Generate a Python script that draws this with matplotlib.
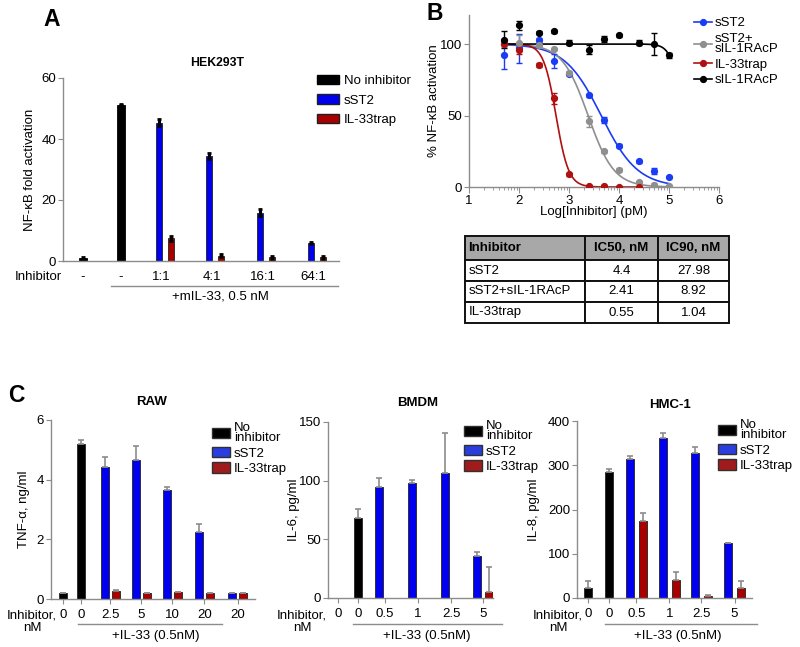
import numpy as np
import matplotlib.pyplot as plt
from matplotlib.lines import Line2D
from matplotlib.patches import Patch

plt.rcParams['font.family'] = ['Liberation Sans', 'DejaVu Sans']
plt.rcParams['font.size'] = 9.5
plt.rcParams['axes.edgecolor'] = '#8c8c8c'
plt.rcParams['axes.linewidth'] = 1.0
plt.rcParams['xtick.color'] = '#8c8c8c'
plt.rcParams['ytick.color'] = '#8c8c8c'
plt.rcParams['xtick.labelcolor'] = 'black'
plt.rcParams['ytick.labelcolor'] = 'black'

W, H = 800, 647
BLUE = '#0000ee'
RED = '#a80000'
GREY = '#8c8c8c'

# ---- panel A: HEK293T fold activation
a_labels = ['-', '-', '1:1', '4:1', '16:1', '64:1']
a_none = [1.0, 51.3]
a_none_err = [0.2, 0.3]
a_sst2 = [45.3, 34.4, 15.8, 5.9]
a_sst2_err = [1.1, 1.1, 1.1, 0.4]
a_trap = [7.5, 1.8, 1.2, 1.2]
a_trap_err = [0.8, 0.5, 0.4, 0.5]

# ---- panel B: dose response, x = log10 concentration (pM)
b_logc = [1.7, 2.0, 2.4, 2.7, 3.0, 3.4, 3.7, 4.0, 4.4, 4.7, 5.0]
b_sst2 = [92, 97, 103, 88, 79, 64, 47, 29, 18, 11, 7]
b_sst2_err = [9.5, 10, 1.5, 5, 1, 1, 2, 1, 1, 2, 1]
b_combo = [100, 101, 99, 96.5, 80, 46, 25, 12, 3.5, 1.5, 0.5]
b_combo_err = [2, 5, 1, 1, 1, 4, 1, 1, 1, 1, 0.5]
b_trap = [100, 96, 85.5, 62, 9, 1, 0.8, 0.3, 0.2]
b_trap_err = [1, 3, 1.5, 4, 1, 0.5, 0.5, 0.5, 0.5]
b_rap = [103, 113, 108, 109, 101, 96, 103.5, 106, 101, 100, 92]
b_rap_err = [6, 3, 1, 1, 2, 3, 2, 1, 2, 8, 2]
# sIL-1RAcP alone barely inhibits: fit parameters
b_rap_logic50 = 5.27
b_rap_hill = 4.0

# ---- table
t_inhib = ['sST2', 'sST2+sIL-1RAcP', 'IL-33trap']
t_ic50 = [4.4, 2.41, 0.55]
t_ic90 = [27.98, 8.92, 1.04]

# ---- panel C: cytokine release
raw_labels = ['0', '0', '2.5', '5', '10', '20', '20']
raw_none = [0.2, 5.2]
raw_none_err = [0.0, 0.14]
raw_sst2 = [4.43, 4.66, 3.64, 2.23, 0.2]
raw_sst2_err = [0.32, 0.48, 0.13, 0.28, 0.01]
raw_trap = [0.28, 0.2, 0.22, 0.2, 0.2]
raw_trap_err = [0.01, 0.0, 0.02, 0.0, 0.0]

bm_labels = ['0', '0', '0.5', '1', '2.5', '5']
bm_none = [0.0, 68.2]
bm_none_err = [0.0, 7.6]
bm_sst2 = [94.6, 97.7, 106.8, 36.1]
bm_sst2_err = [7.7, 3.1, 33.8, 3.1]
bm_trap = [0.0, 0.0, 0.0, 4.8]
bm_trap_err = [0.0, 0.0, 0.0, 21.3]

hm_labels = ['0', '0', '0.5', '1', '2.5', '5']
hm_none = [22.6, 284]
hm_none_err = [15, 7]
hm_sst2 = [314, 362, 328.5, 124]
hm_sst2_err = [7, 10, 12, 1]
hm_trap = [173, 41, 4.5, 22.5]
hm_trap_err = [19, 17, 1.5, 15]

fig = plt.figure(figsize=(8, 6.47), dpi=100)


def px_axes(l, t, r, b):
    return fig.add_axes([l / W, 1 - b / H, (r - l) / W, (b - t) / H])


def ftext(x, y, s, **kw):
    kw.setdefault('ha', 'center')
    kw.setdefault('va', 'center')
    return fig.text(x / W, 1 - y / H, s, **kw)


def fline(x0, x1, y):
    fig.add_artist(Line2D([x0 / W, x1 / W], [1 - y / H, 1 - y / H], color=GREY, lw=1))


def hill(x, logic50, n):
    return 100 / (1 + 10 ** (n * (np.asarray(x) - logic50)))


def clean(ax):
    ax.spines['top'].set_visible(False)
    ax.spines['right'].set_visible(False)
    ax.tick_params(axis='y', length=3.5, pad=1.5)


# ================= A
ax = px_axes(63, 78, 339, 261)
a_pos = np.array([0.4, 1.16, 1.92, 2.92, 3.94, 4.96])
ekw = dict(ecolor='black', elinewidth=2.2, capsize=1.5, capthick=2)
ax.bar(a_pos[:2], a_none, 0.15, color='black', edgecolor='black', lw=0.6,
       yerr=a_none_err, error_kw=ekw)
ax.bar(a_pos[2:], a_sst2, 0.13, color=BLUE, edgecolor='#202020', lw=0.6,
       yerr=a_sst2_err, error_kw=ekw)
ax.bar(a_pos[2:] + 0.24, a_trap, 0.13, color=RED, edgecolor='#202020', lw=0.6,
       yerr=a_trap_err, error_kw=ekw)
ax.set_xlim(0, 5.52)
ax.set_ylim(0, 60)
ax.set_yticks([0, 20, 40, 60])
ax.set_xticks(np.r_[a_pos[:2], a_pos[2:] + 0.05], a_labels)
ax.tick_params(axis='x', length=0, pad=7)
clean(ax)
ax.set_ylabel('NF-κB fold activation')
ax.yaxis.set_label_coords(-0.098, 0.5)
ax.legend(handles=[Patch(fc='black', ec='black'), Patch(fc=BLUE, ec='#202020'),
                   Patch(fc=RED, ec='#202020')],
          labels=['No inhibitor', 'sST2', 'IL-33trap'], loc='upper left',
          bbox_to_anchor=(317 / W, 1 - 75 / H), bbox_transform=fig.transFigure,
          frameon=False, borderpad=0, borderaxespad=0, handlelength=1.7,
          handleheight=0.7, handletextpad=0.35, labelspacing=0.55, fontsize=9.5)
ftext(217, 63, 'HEK293T', fontweight='bold', fontsize=8.8)
ftext(38, 277, 'Inhibitor')
fline(111, 338, 286)
ftext(220, 297, '+mIL-33, 0.5 nM')
ftext(43, 8, 'A', ha='left', va='top', fontweight='bold', fontsize=16.5)

# ================= B
ax = px_axes(469, 15, 719, 187)
fits = {n: (np.log10(ic50 * 1000), np.log(9) / np.log(ic90 / ic50))
        for n, ic50, ic90 in zip(t_inhib, t_ic50, t_ic90)}
series = [
    ('sST2', b_sst2, b_sst2_err, '#1a3cf5', fits['sST2']),
    ('sST2+\nsIL-1RAcP', b_combo, b_combo_err, '#8f8f8f', fits['sST2+sIL-1RAcP']),
    ('IL-33trap', b_trap, b_trap_err, '#b01010', fits['IL-33trap']),
    ('sIL-1RAcP', b_rap, b_rap_err, 'black', (b_rap_logic50, b_rap_hill)),
]
handles = []
for name, y, err, col, (lic, n) in series:
    x = b_logc[:len(y)]
    xs = np.linspace(x[0], x[-1], 300)
    ax.plot(xs, hill(xs, lic, n), color=col, lw=1.2, zorder=2)
    ax.errorbar(x, y, yerr=err, fmt='o', color=col, ms=4.2, elinewidth=1,
                capsize=2, capthick=1, zorder=3)
    handles.append(Line2D([0], [0], color=col, lw=1.2, marker='o', ms=4.2, label=name))
ax.set_xlim(1, 6)
ax.set_ylim(0, 120.3)
ax.set_xticks([1, 2, 3, 4, 5, 6])
ax.set_xticks([d + np.log10(k) for d in range(1, 6) for k in range(2, 10)], minor=True)
ax.set_yticks([0, 50, 100])
ax.tick_params(axis='x', which='major', length=4, pad=2)
ax.tick_params(axis='x', which='minor', length=2.2)
clean(ax)
ax.set_xlabel('Log[Inhibitor] (pM)', labelpad=-1)
ax.set_ylabel('% NF-κB activation')
ax.yaxis.set_label_coords(-0.116, 0.5)
leg = ax.legend(handles=handles, loc='upper left', bbox_to_anchor=(694 / W, 1 - 17 / H),
                bbox_transform=fig.transFigure, frameon=False, borderpad=0,
                borderaxespad=0, handlelength=1.35, handletextpad=0.25,
                labelspacing=0.25, fontsize=9.5)
leg.get_texts()[1].set_linespacing(0.85)
ftext(426, 2, 'B', ha='left', va='top', fontweight='bold', fontsize=16.5)

# ---- table
ax = px_axes(465, 236, 729, 323)
ax.axis('off')
rows = [[n, f'{a:g}', f'{b:g}'] for n, a, b in zip(t_inhib, t_ic50, t_ic90)]
tbl = ax.table(cellText=rows, colLabels=['Inhibitor', 'IC50, nM', 'IC90, nM'],
               bbox=[0, 0, 1, 1], colWidths=[120 / 264, 73 / 264, 71 / 264],
               cellLoc='center')
tbl.auto_set_font_size(False)
tbl.set_fontsize(9.5)
for (r, c), cell in tbl.get_celld().items():
    cell.set_linewidth(1.4)
    cell.set_edgecolor('#111111')
    cell.set_height(24 if r == 0 else 21)
    if r == 0:
        cell.set_facecolor('#a8a8a8')
        cell.get_text().set_fontweight('bold')
    if c == 0:
        cell.get_text().set_ha('left')
        cell._loc = 'left'
        cell.PAD = 0.03

# ================= C
def cyto(box, pos, lim, width, off, labels, none, none_err, sst2, sst2_err,
         trap, trap_err, ylim, yticks, ylabel, lab_x, leg_xy):
    ax = px_axes(*box)
    pos = np.asarray(pos)
    ekw = dict(ecolor=GREY, elinewidth=1.2, capsize=2, capthick=1.2)

    def bars(x, v, e, col):
        v, e = np.asarray(v, float), np.asarray(e, float)
        keep = v > 0
        ax.bar(x[keep], v[keep], width, color=col, edgecolor='#303030', lw=0.7,
               yerr=[np.zeros(keep.sum()), e[keep]], error_kw=ekw)

    bars(pos[:2], none, none_err, 'black')
    bars(pos[2:2 + len(sst2)], sst2, sst2_err, BLUE)
    bars(pos[2:2 + len(trap)] + off, trap, trap_err, RED)
    ax.set_xlim(0, lim)
    ax.set_ylim(*ylim)
    ax.set_yticks(yticks)
    ax.set_xticks(np.r_[pos[:2], pos[2:] + off / 2], labels)
    ax.tick_params(axis='x', length=3.5, pad=4)
    clean(ax)
    ax.set_ylabel(ylabel)
    ax.yaxis.set_label_coords(lab_x, 0.5)
    leg = ax.legend(handles=[Patch(fc='black', ec='#303030'), Patch(fc='#2a3ee0', ec='#303030'),
                             Patch(fc='#a01c1c', ec='#303030')],
                    labels=['No\ninhibitor', 'sST2', 'IL-33trap'], loc='upper left',
                    bbox_to_anchor=(leg_xy[0] / W, 1 - leg_xy[1] / H),
                    bbox_transform=fig.transFigure, frameon=False, borderpad=0,
                    borderaxespad=0, handlelength=1.35, handleheight=0.85,
                    handletextpad=0.3, labelspacing=0.2, fontsize=9.5)
    leg.get_texts()[0].set_linespacing(0.8)
    return ax


cyto((51, 420, 255, 599), [0.39, 0.97, 1.74, 2.74, 3.74, 4.77, 5.84], 6.58, 0.27, 0.355,
     raw_labels, raw_none, raw_none_err, raw_sst2, raw_sst2_err, raw_trap, raw_trap_err,
     (0, 6), [0, 2, 4, 6], 'TNF-α, ng/ml', -0.103, (212, 422))
cyto((328, 422, 493, 598), [0.3, 0.91, 1.55, 2.55, 3.55, 4.52], 5.0, 0.25, 0.36,
     bm_labels, bm_none, bm_none_err, bm_sst2, bm_sst2_err, bm_trap, bm_trap_err,
     (0, 150), [0, 50, 100, 150], 'IL-6, pg/ml', -0.17, (464, 420))
cyto((577, 421, 752, 598), [0.33, 0.97, 1.61, 2.61, 3.58, 4.58], 5.3, 0.24, 0.38,
     hm_labels, hm_none, hm_none_err, hm_sst2, hm_sst2_err, hm_trap, hm_trap_err,
     (0, 400), [0, 100, 200, 300, 400], 'IL-8, pg/ml', -0.21, (718, 419))

for tx, ty, title, ix, lx0, lx1, px in [(152, 402, 'RAW', 32, 78, 222, 156),
                                        (418, 403, 'BMDM', 302, 353, 502, 427),
                                        (670, 405, 'HMC-1', 558, 605, 757, 678)]:
    ftext(tx, ty, title, fontweight='bold', fontsize=9.5)
    ftext(ix, 622, 'Inhibitor,\nnM', linespacing=1.1)
    fline(lx0, lx1, 624)
    ftext(px, 636, '+IL-33 (0.5nM)')
ftext(8, 384, 'C', ha='left', va='top', fontweight='bold', fontsize=16.5)

fig.savefig('out.png', dpi=100)
